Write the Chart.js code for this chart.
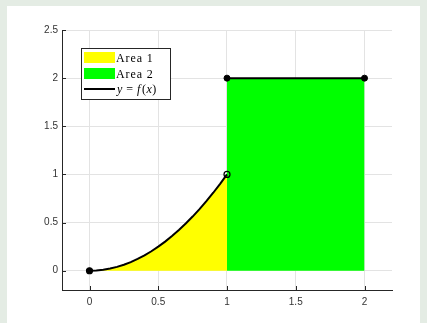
<!DOCTYPE html>
<html>
<head>
<meta charset="utf-8">
<script src="https://cdn.jsdelivr.net/npm/chart.js@4.4.1/dist/chart.umd.min.js"></script>
<style>
  html, body { margin: 0; padding: 0; }
  body { width: 427px; height: 323px; background: #e4ece4; position: relative; overflow: hidden; }
  #panel { position: absolute; left: 7px; top: 6px; width: 413px; height: 317px; background: #fff; }
  #chart { position: absolute; left: 0; top: 0; }
</style>
</head>
<body>
<div id="panel"></div>
<canvas id="chart" width="427" height="323"></canvas>
<script>
// curve y = f(x) on [0, 1]
const curveX = [0, 0.05, 0.1, 0.15, 0.2, 0.25, 0.3, 0.35, 0.4, 0.45, 0.5, 0.55, 0.6, 0.65, 0.7, 0.75, 0.8, 0.85, 0.9, 0.95, 1];
const curveY = [0, 0.0025, 0.01, 0.0225, 0.04, 0.0625, 0.09, 0.1225, 0.16, 0.2025, 0.25, 0.3025, 0.36, 0.4225, 0.49, 0.5625, 0.64, 0.7225, 0.81, 0.9025, 1];
// constant part on [1, 2]
const stepX = [1, 2];
const stepY = [2, 2];

const xTicks = [0, 0.5, 1, 1.5, 2];
const yTicks = [0, 0.5, 1, 1.5, 2, 2.5];
const legendLabels = ['Area 1', 'Area 2', 'y = f(x)'];

const yellow = '#ffff00';
const green = '#00ff00';
const axisColor = '#262626';

const curvePts = curveX.map((x, i) => ({ x: x, y: curveY[i] }));
const stepPts = stepX.map((x, i) => ({ x: x, y: stepY[i] }));

// open circle at the end of the curve, filled dot at the start
const curveRadius = curveX.map((x, i) => (i === 0 || i === curveX.length - 1) ? 3 : 0);
const curveFill = curveX.map((x, i) => i === curveX.length - 1 ? 'rgba(0,0,0,0)' : '#000');

// inward tick marks + the legend box
const matlabBits = {
    id: 'matlabBits',
    afterDatasetsDraw(chart) {
        const ctx = chart.ctx;
        const a = chart.chartArea;
        const xs = chart.scales.x, ys = chart.scales.y;
        ctx.save();
        ctx.strokeStyle = axisColor;
        ctx.lineWidth = 1;
        ctx.beginPath();
        yTicks.forEach(v => {
            const y = Math.round(ys.getPixelForValue(v)) + 0.5;
            ctx.moveTo(a.left, y);
            ctx.lineTo(a.left + 4, y);
        });
        xTicks.forEach(v => {
            const x = Math.round(xs.getPixelForValue(v)) + 0.5;
            ctx.moveTo(x, a.bottom);
            ctx.lineTo(x, a.bottom - 4);
        });
        ctx.stroke();

        // legend
        const lx = a.left + 19, ly = a.top + 18;
        ctx.fillStyle = '#fff';
        ctx.fillRect(lx, ly, 89, 51);
        ctx.strokeStyle = axisColor;
        ctx.strokeRect(lx + 0.5, ly + 0.5, 89, 51);

        ctx.fillStyle = yellow;
        ctx.fillRect(lx + 3, ly + 4, 31, 11);
        ctx.fillStyle = green;
        ctx.fillRect(lx + 3, ly + 20, 31, 11);
        ctx.strokeStyle = '#000';
        ctx.lineWidth = 2;
        ctx.beginPath();
        ctx.moveTo(lx + 3, ly + 41);
        ctx.lineTo(lx + 34, ly + 41);
        ctx.stroke();

        ctx.fillStyle = '#000';
        ctx.textBaseline = 'alphabetic';
        ctx.textAlign = 'left';
        ctx.font = '12px "Liberation Serif"';
        ctx.letterSpacing = '0.9px';
        ctx.fillText(legendLabels[0], lx + 35, ly + 14);
        ctx.fillText(legendLabels[1], lx + 35, ly + 30);

        // y = f(x) with math italics
        ctx.letterSpacing = '0px';
        let tx = lx + 36;
        const parts = [['y', true, 4], ['=', false, 4], ['f', true, 1.5], ['(', false, 0.5], ['x', true, 0.5], [')', false, 0]];
        parts.forEach(p => {
            ctx.font = (p[1] ? 'italic ' : '') + '12px "Liberation Serif"';
            ctx.fillText(p[0], tx, ly + 45);
            tx += ctx.measureText(p[0]).width + p[2];
        });
        ctx.restore();
    }
};

new Chart(document.getElementById('chart'), {
    type: 'scatter',
    data: {
        datasets: [
            {
                label: legendLabels[0],
                data: curvePts,
                showLine: true,
                borderWidth: 0,
                borderColor: 'rgba(0,0,0,0)',
                backgroundColor: yellow,
                fill: 'origin',
                pointRadius: 0,
                order: 4
            },
            {
                label: legendLabels[1],
                data: stepPts,
                showLine: true,
                borderWidth: 0,
                borderColor: 'rgba(0,0,0,0)',
                backgroundColor: green,
                fill: 'origin',
                pointRadius: 0,
                order: 3
            },
            {
                label: legendLabels[2],
                data: curvePts,
                showLine: true,
                borderColor: '#000',
                borderWidth: 2,
                fill: false,
                pointRadius: curveRadius,
                pointBackgroundColor: curveFill,
                pointBorderColor: '#000',
                pointBorderWidth: 1.2,
                order: 1
            },
            {
                label: legendLabels[2],
                data: stepPts,
                showLine: true,
                borderColor: '#000',
                borderWidth: 2,
                fill: false,
                pointRadius: 3,
                pointBackgroundColor: '#000',
                pointBorderColor: '#000',
                pointBorderWidth: 1,
                order: 2
            }
        ]
    },
    options: {
        responsive: false,
        animation: false,
        layout: { padding: { left: 0, right: 35, top: 30, bottom: 0 } },
        plugins: {
            legend: { display: false },
            tooltip: { enabled: false }
        },
        scales: {
            x: {
                type: 'linear',
                min: -0.2,
                max: 2.2,
                afterBuildTicks: s => { s.ticks = xTicks.map(v => ({ value: v })); },
                afterFit: s => { s.height = 33; },
                border: { display: true, color: axisColor, width: 1 },
                grid: { color: '#e3e3e3', drawTicks: false },
                ticks: {
                    padding: 6,
                    color: '#333',
                    font: { family: '"Liberation Sans"', size: 10 },
                    callback: v => String(v)
                }
            },
            y: {
                type: 'linear',
                min: -0.2,
                max: 2.5,
                afterBuildTicks: s => { s.ticks = yTicks.map(v => ({ value: v })); },
                afterFit: s => { s.width = 62; },
                border: { display: true, color: axisColor, width: 1 },
                grid: { color: '#e3e3e3', drawTicks: false },
                ticks: {
                    padding: 4,
                    color: '#333',
                    font: { family: '"Liberation Sans"', size: 10 },
                    callback: v => String(v)
                }
            }
        }
    },
    plugins: [matlabBits]
});
</script>
</body>
</html>
